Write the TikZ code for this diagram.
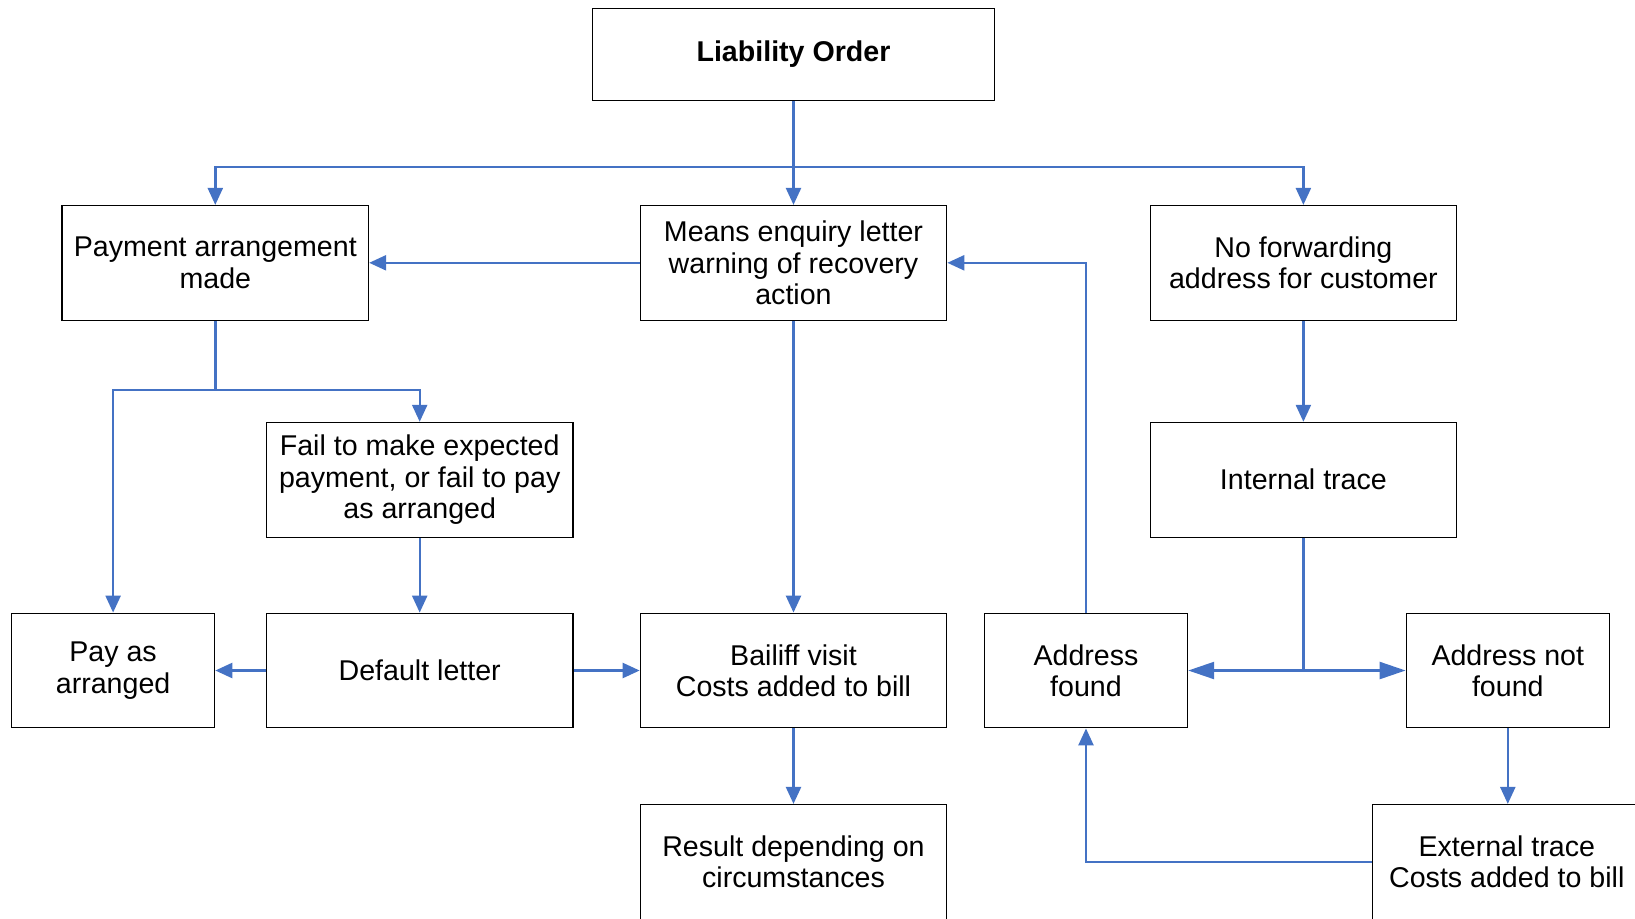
\documentclass[tikz,border=0pt]{standalone}
\usepackage{fontspec}
\setmainfont{Liberation Sans}
\usetikzlibrary{
    positioning,
    arrows.meta
}

\definecolor{flowblue}{HTML}{4472C4}

\begin{document}
\begin{tikzpicture}[
    x=1pt, y=-1pt,
    stepbox/.style={
        rectangle,
        draw,
        line width=0.55pt,
        minimum width=153.3pt,
        minimum height=57.35pt,
        align=center,
        inner sep=2pt,
        font=\fontsize{14.3}{15.7}\selectfont,
    },
    smallbox/.style={
        stepbox,
        minimum width=101.65pt,
    },
    flow/.style={
        draw=flowblue,
        line width=1.2pt,
        -{Triangle[length=8.5pt,width=7.5pt]},
    },
    bigflow/.style={
        flow,
        -{Triangle[length=13pt,width=8.5pt]},
    },
    link/.style={
        draw=flowblue,
        line width=1.2pt,
    },
]
    \useasboundingbox (0,0) rectangle (817.5,459);

    \node[stepbox, minimum width=201.25pt, minimum height=45.9pt,
          font=\fontsize{14.3}{15.7}\selectfont\bfseries] (liability) at (396.75,27.1) {Liability Order};

    \node[stepbox] (arrangement) at (107.65,131.4) {Payment arrangement\\made};
    \node[stepbox] (enquiry) at (396.75,131.4) {Means enquiry letter\\warning of recovery\\action};
    \node[stepbox] (noforward) at (651.7,131.4) {No forwarding\\address for customer};

    \node[stepbox] (fail) at (209.85,239.85) {Fail to make expected\\payment, or fail to pay\\as arranged};
    \node[stepbox] (internal) at (651.7,239.85) {Internal trace};

    \node[smallbox] (payarranged) at (56.55,335.25) {Pay as\\arranged};
    \node[stepbox] (default) at (209.85,335.25) {Default letter};
    \node[stepbox] (bailiff) at (396.75,335.25) {Bailiff visit\\Costs added to bill};
    \node[smallbox] (found) at (543,335.25) {Address\\found};
    \node[smallbox] (notfound) at (753.9,335.25) {Address not\\found};

    \node[stepbox] (result) at (396.75,430.9) {Result depending on\\circumstances};
    \node[stepbox, minimum width=134.5pt] (external) at (753.4,430.9) {External trace\\Costs added to bill};

    % branches from the liability order
    \coordinate (split) at (liability.south |- 0,83.4);
    \draw[flow] (liability.south) -- (enquiry.north);
    \draw[flow] (split) -| (arrangement.north);
    \draw[flow] (split) -| (noforward.north);

    \draw[flow] (enquiry.west) -- (arrangement.east);

    % payment arrangement
    \coordinate (paysplit) at (arrangement.south |- 0,195);
    \draw[link] (arrangement.south) -- (paysplit);
    \draw[flow] (paysplit) -| (payarranged.north);
    \draw[flow] (paysplit) -| (fail.north);
    \draw[flow] (fail.south) -- (default.north);
    \draw[flow] (default.west) -- (payarranged.east);
    \draw[flow] (default.east) -- (bailiff.west);

    \draw[flow] (enquiry.south) -- (bailiff.north);
    \draw[flow] (bailiff.south) -- (result.north);

    % tracing
    \draw[flow] (found.north) |- (enquiry.east);
    \draw[flow] (noforward.south) -- (internal.north);
    \coordinate (tracesplit) at (internal.south |- found.east);
    \draw[link] (internal.south) -- (tracesplit);
    \draw[bigflow] (tracesplit) -- (found.east);
    \draw[bigflow] (tracesplit) -- (notfound.west);
    \draw[flow] (notfound.south) -- (notfound.south |- external.north);
    \draw[flow] (external.west) -| (found.south);

\end{tikzpicture}
\end{document}
